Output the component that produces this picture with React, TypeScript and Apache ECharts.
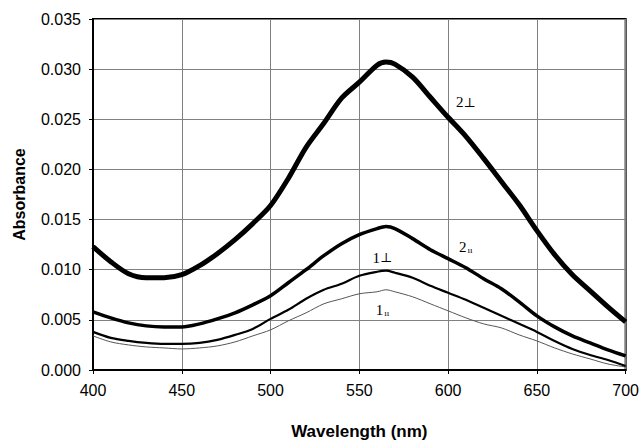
import React, { useEffect, useRef } from "react";
import * as echarts from "echarts";

const wavelengths = [400, 410, 420, 430, 440, 450, 460, 470, 480, 490, 500, 510, 520, 530, 540, 550, 560, 565, 570, 580, 590, 600, 610, 620, 630, 640, 650, 660, 670, 680, 690, 700];

const perp2 = [0.0123, 0.0108, 0.0096, 0.0092, 0.0092, 0.0095, 0.0104, 0.0116, 0.0130, 0.0146, 0.0164, 0.0191, 0.0222, 0.0246, 0.0271, 0.0287, 0.0304, 0.0307, 0.0305, 0.0292, 0.0272, 0.0252, 0.0233, 0.0211, 0.0188, 0.0165, 0.0139, 0.0115, 0.0095, 0.0079, 0.0063, 0.0048];
const par2 = [0.0058, 0.0052, 0.0047, 0.0044, 0.0043, 0.0043, 0.0046, 0.0051, 0.0057, 0.0065, 0.0074, 0.0087, 0.0100, 0.0114, 0.0126, 0.0135, 0.0141, 0.0143, 0.0141, 0.0131, 0.0120, 0.0111, 0.0102, 0.0091, 0.0081, 0.0068, 0.0054, 0.0043, 0.0034, 0.0027, 0.0020, 0.0014];
const perp1 = [0.0038, 0.0032, 0.0029, 0.0027, 0.0026, 0.0026, 0.0027, 0.0030, 0.0035, 0.0041, 0.0051, 0.0060, 0.0071, 0.0080, 0.0086, 0.0094, 0.0098, 0.0099, 0.0097, 0.0092, 0.0084, 0.0077, 0.0070, 0.0062, 0.0054, 0.0046, 0.0038, 0.0029, 0.0021, 0.0015, 0.0010, 0.0004];
const par1 = [0.0034, 0.0028, 0.0025, 0.0023, 0.0022, 0.0021, 0.0022, 0.0024, 0.0028, 0.0034, 0.0040, 0.0049, 0.0057, 0.0066, 0.0071, 0.0076, 0.0078, 0.0080, 0.0078, 0.0073, 0.0066, 0.0059, 0.0052, 0.0046, 0.0042, 0.0035, 0.0029, 0.0022, 0.0016, 0.0011, 0.0006, 0.0003];

// annotation labels
const labelNumbers = ["2", "2", "1", "1"];
const labelKinds = ["perp", "par", "perp", "par"];
const labelX = [610, 610, 563, 563];
const labelY = [0.0267, 0.0123, 0.0112, 0.0060];

const mk = (v: number[]) => wavelengths.map((w, i) => [w, v[i]]);

export default function App() {
  const ref = useRef<HTMLDivElement>(null);
  useEffect(() => {
    document.body.style.margin = "0";
    if (!ref.current) return;
    const chart = echarts.init(ref.current, undefined, { renderer: "svg" });
    const axisFont = { fontFamily: "Liberation Sans, Arial, sans-serif", fontSize: 16, color: "#000" };
    const annotations = labelNumbers.map((n, i) => ({
      coord: [labelX[i], labelY[i]],
      value: labelKinds[i] === "perp" ? `{n|${n}}{p|⊥}` : `{n|${n}}{s|ıı}`,
    }));
    chart.setOption({
      animation: false,
      backgroundColor: "#fff",
      grid: { left: 93, right: 16, top: 19, bottom: 74, show: true, borderColor: "#000", borderWidth: 2, backgroundColor: "transparent" },
      xAxis: {
        type: "value",
        min: 400,
        max: 700,
        interval: 50,
        name: "Wavelength (nm)",
        nameLocation: "middle",
        nameGap: 53,
        nameTextStyle: { fontFamily: "Liberation Sans, Arial, sans-serif", fontSize: 17, fontWeight: "bold", color: "#000" },
        axisLine: { lineStyle: { color: "#000", width: 2 } },
        axisTick: { show: true, inside: false, length: 4, lineStyle: { color: "#000" } },
        axisLabel: { ...axisFont, margin: 12 },
        splitLine: { show: true, lineStyle: { color: "#808080", width: 1 } },
      },
      yAxis: {
        type: "value",
        min: 0,
        max: 0.035,
        interval: 0.005,
        name: "Absorbance",
        nameLocation: "middle",
        nameGap: 66,
        nameTextStyle: { fontFamily: "Liberation Sans, Arial, sans-serif", fontSize: 16, fontWeight: "bold", color: "#000" },
        axisLine: { show: true, lineStyle: { color: "#000", width: 2 } },
        axisTick: { show: true, inside: false, length: 4, lineStyle: { color: "#000" } },
        axisLabel: { ...axisFont, margin: 12, formatter: (v: number) => v.toFixed(3) },
        splitLine: { show: true, lineStyle: { color: "#808080", width: 1 } },
      },
      series: [
        { type: "line", data: mk(perp2), showSymbol: false, smooth: 0.3, lineStyle: { color: "#000", width: 5 }, z: 4 },
        { type: "line", data: mk(par2), showSymbol: false, smooth: 0.3, lineStyle: { color: "#000", width: 3.5 }, z: 3 },
        { type: "line", data: mk(perp1), showSymbol: false, smooth: 0.3, lineStyle: { color: "#000", width: 2.2 }, z: 3 },
        {
          type: "line",
          data: mk(par1),
          showSymbol: false,
          smooth: 0.3,
          lineStyle: { color: "#555", width: 1 },
          z: 2,
          markPoint: {
            symbol: "circle",
            symbolSize: 0,
            silent: true,
            itemStyle: { color: "transparent" },
            label: {
              show: true,
              color: "#000",
              textBorderWidth: 0,
              formatter: (p: any) => p.value,
              rich: {
                n: { fontFamily: "Liberation Serif, Times New Roman, serif", fontSize: 15, color: "#000" },
                p: { fontFamily: "DejaVu Serif, serif", fontSize: 13, color: "#000" },
                s: { fontFamily: "Liberation Serif, serif", fontSize: 9, color: "#000", padding: [6, 0, 0, 1] },
              },
            },
            data: annotations,
          },
        },
      ],
    });
    return () => chart.dispose();
  }, []);
  return <div ref={ref} style={{ width: 642, height: 445 }} />;
}
